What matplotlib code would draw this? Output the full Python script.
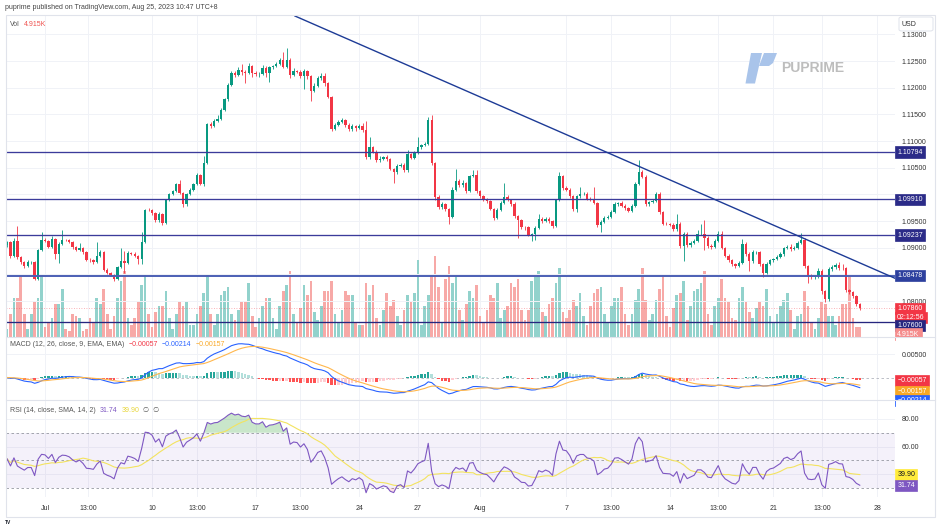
import matplotlib.pyplot as plt
import matplotlib.patches as mpatches
import numpy as np
import pandas as pd

plt.rcParams['font.family'] = ['Liberation Sans', 'DejaVu Sans']

W, H = 941, 527

# EURUSD 4h candles, Jun 29 - Aug 25 2023
first_open = 1.0905
closes = [
    # Jun 29 - Jul 14
    1.0910, 1.0885, 1.0913, 1.0882, 1.0873, 1.0865, 1.0873, 1.0873, 1.0842, 1.0895,
    1.0915, 1.0913, 1.0901, 1.0916, 1.0888, 1.0907, 1.0915, 1.0914, 1.0910, 1.0901,
    1.0895, 1.0900, 1.0891, 1.0877, 1.0876, 1.0874, 1.0885, 1.0892, 1.0859, 1.0853,
    1.0849, 1.0842, 1.0863, 1.0875, 1.0872, 1.0890, 1.0888, 1.0885, 1.0879, 1.0910,
    1.0971, 1.0970, 1.0965, 1.0951, 1.0963, 1.0946, 1.0989, 1.1000, 1.1006, 1.1019,
    1.1003, 1.0981, 1.1000, 1.1009, 1.1019, 1.1036, 1.1020, 1.1058, 1.1132, 1.1128,
    1.1138, 1.1141,
    # Jul 14 - Jul 27
    1.1159, 1.1178, 1.1205, 1.1228, 1.1224, 1.1233, 1.1229, 1.1228, 1.1241, 1.1228,
    1.1225, 1.1225, 1.1237, 1.1228, 1.1238, 1.1240, 1.1245, 1.1252, 1.1239, 1.1252,
    1.1224, 1.1231, 1.1230, 1.1222, 1.1231, 1.1221, 1.1194, 1.1204, 1.1218, 1.1222,
    1.1208, 1.1183, 1.1123, 1.1130, 1.1136, 1.1140, 1.1130, 1.1122, 1.1128, 1.1124,
    1.1128, 1.1120, 1.1070, 1.1088, 1.1080, 1.1064, 1.1067, 1.1070, 1.1066, 1.1048,
    1.1042, 1.1053, 1.1055, 1.1045, 1.1075, 1.1069, 1.1077, 1.1088, 1.1092, 1.1095,
    1.1140, 1.1059,
    # Jul 27 - Aug 10
    1.0995, 1.0976, 1.0981, 1.0973, 1.0958, 1.1009, 1.1025, 1.1017, 1.1021, 1.1006,
    1.1034, 1.1036, 1.1006, 1.0996, 1.0990, 1.0987, 1.0973, 1.0956, 1.0971, 1.0984,
    1.0995, 1.0990, 1.0982, 1.0960, 1.0951, 1.0939, 1.0938, 1.0924, 1.0925, 1.0937,
    1.0954, 1.0950, 1.0954, 1.0950, 1.0940, 1.0989, 1.1034, 1.1011, 1.1009, 1.0996,
    1.0973, 1.0996, 1.1001, 1.1001, 1.0992, 1.0990, 1.0984, 1.0943, 1.0948, 1.0956,
    1.0958, 1.0967, 1.0982, 1.0983, 1.0979, 1.0974, 1.0969, 1.0979, 1.1019, 1.1042,
    1.1033, 1.0982,
    # Aug 10 - Aug 25
    1.0985, 1.0988, 1.1000, 1.0966, 1.0945, 1.0944, 1.0943, 1.0935, 1.0945, 1.0903,
    1.0926, 1.0905, 1.0909, 1.0913, 1.0926, 1.0926, 1.0918, 1.0903, 1.0901, 1.0913,
    1.0926, 1.0900, 1.0885, 1.0877, 1.0869, 1.0866, 1.0872, 1.0907, 1.0888, 1.0875,
    1.0891, 1.0891, 1.0869, 1.0853, 1.0870, 1.0876, 1.0878, 1.0883, 1.0888, 1.0899,
    1.0902, 1.0897, 1.0900, 1.0909, 1.0915, 1.0866, 1.0847, 1.0845, 1.0846, 1.0857,
    1.0818, 1.0803, 1.0860, 1.0863, 1.0868, 1.0862, 1.0861, 1.0820, 1.0817, 1.0809,
    1.0794, 1.0786,
]

# wick lengths beyond the body, in pips
wick_up = [
    3, 2, 5, 27, 2, 2, 3, 2, 2, 3, 15, 3, 2, 5, 2, 3, 19, 2, 2, 3, 2, 8, 2, 2, 3, 2, 25, 3, 2, 2,
    2, 2, 3, 25, 19, 3, 2, 3, 2, 19, 2, 3, 2, 2, 3, 2, 3, 2, 3, 3, 8, 2, 3, 2, 3, 4, 3, 14, 2, 3,
    4, 8,
    3, 2, 4, 3, 4, 5, 12, 5, 5, 2, 3, 4, 5, 3, 2, 3, 4, 3, 14, 23, 4, 5, 3, 3, 4, 3, 2, 4, 3, 5,
    5, 2, 2, 3, 4, 3, 2, 3, 3, 2, 4, 5, 18, 20, 3, 3, 4, 2, 3, 2, 2, 3, 4, 3, 8, 3, 4, 19, 3, 4,
    5, 9,
    2, 3, 4, 3, 2, 5, 23, 4, 5, 3, 3, 9, 9, 3, 2, 3, 2, 2, 3, 4, 26, 3, 2, 3, 2, 3, 2, 3, 3, 3,
    9, 3, 3, 3, 2, 3, 8, 3, 4, 2, 2, 3, 13, 3, 3, 3, 24, 2, 3, 3, 3, 3, 4, 3, 5, 3, 3, 3, 5, 23,
    3, 3,
    3, 3, 4, 4, 2, 3, 2, 3, 18, 3, 3, 3, 3, 4, 8, 18, 25, 3, 3, 4, 6, 5, 2, 3, 2, 3, 3, 9, 3, 3,
    4, 3, 2, 2, 3, 3, 3, 4, 3, 3, 3, 4, 3, 4, 13, 3, 2, 3, 3, 4, 3, 2, 3, 4, 4, 6, 8, 2, 3, 2,
    2, 2,
]
wick_dn = [
    3, 4, 2, 3, 4, 3, 2, 3, 3, 2, 2, 3, 2, 2, 9, 16, 2, 2, 2, 3, 2, 2, 3, 2, 3, 4, 2, 2, 3, 2,
    3, 5, 2, 2, 20, 3, 2, 2, 9, 9, 2, 2, 3, 3, 2, 4, 2, 2, 2, 2, 2, 4, 2, 2, 2, 2, 3, 5, 2, 3,
    2, 2,
    2, 2, 3, 2, 4, 3, 5, 20, 3, 8, 3, 5, 2, 8, 18, 3, 2, 2, 3, 3, 5, 3, 3, 4, 25, 4, 19, 3, 2, 3,
    4, 3, 4, 3, 2, 2, 3, 4, 3, 6, 2, 3, 4, 3, 3, 3, 4, 3, 3, 3, 21, 3, 2, 4, 3, 3, 3, 2, 3, 2,
    2, 4,
    6, 4, 3, 4, 14, 3, 2, 3, 3, 4, 2, 2, 3, 3, 3, 4, 3, 4, 3, 2, 2, 3, 3, 4, 33, 4, 5, 3, 11, 10,
    2, 3, 2, 3, 4, 2, 2, 3, 3, 3, 4, 6, 2, 3, 3, 3, 3, 4, 14, 2, 3, 2, 2, 3, 3, 3, 3, 2, 2, 2,
    3, 3,
    3, 2, 3, 3, 3, 2, 3, 4, 3, 3, 28, 3, 4, 3, 2, 3, 22, 3, 4, 2, 2, 3, 3, 4, 3, 4, 2, 3, 3, 19,
    3, 2, 3, 8, 3, 2, 3, 2, 2, 3, 2, 3, 2, 2, 3, 5, 13, 4, 3, 3, 4, 5, 3, 3, 3, 3, 3, 3, 4, 3,
    3, 2,
]

# volume per candle, thousands
volumes_k = [
    4, 11, 19, 19, 29, 11, 4, 11, 17, 19, 30, 5, 7, 9, 16, 16, 23, 4, 3, 11, 10, 9, 3, 4, 9, 7, 19, 16, 23, 11,
    4, 10, 19, 27, 32, 9, 6, 9, 17, 25, 30, 11, 5, 12, 15, 15, 22, 9, 4, 11, 17, 15, 17, 6, 6, 11, 15, 21, 30, 11,
    6, 11,
    20, 22, 24, 11, 8, 13, 17, 17, 26, 10, 5, 9, 15, 19, 19, 9, 4, 15, 22, 25, 32, 11, 7, 14, 25, 20, 27, 12, 8, 15,
    22, 22, 27, 11, 7, 13, 22, 20, 20, 7, 6, 6, 26, 20, 25, 9, 6, 13, 21, 15, 18, 10, 6, 13, 20, 17, 21, 37, 6, 15,
    20, 30,
    39, 24, 7, 28, 34, 26, 29, 13, 8, 16, 22, 19, 25, 10, 7, 13, 20, 19, 26, 9, 13, 15, 26, 24, 28, 13, 8, 13, 27, 29,
    32, 12, 10, 16, 19, 26, 33, 12, 9, 13, 18, 15, 21, 10, 6, 15, 21, 23, 24, 11, 7, 15, 19, 19, 24, 11, 6, 11, 18, 23,
    33, 18,
    8, 11, 18, 23, 29, 10, 5, 14, 20, 21, 27, 8, 15, 22, 23, 26, 32, 11, 6, 15, 19, 28, 19, 17, 9, 8, 19, 24, 17, 12,
    9, 14, 17, 15, 23, 10, 7, 11, 15, 18, 21, 13, 4, 10, 11, 22, 15, 7, 4, 9, 17, 16, 10, 10, 6, 10, 16, 16, 29, 9,
    5, 4.9,
]

levels = [1.10794, 1.09910, 1.09237, 1.08478, 1.07600]
level_labels = ['1.10794', '1.09910', '1.09237', '1.08478', '1.07600']
trend_x = [83.4, 257.7]
trend_y = [1.13344, 1.08412]
last_price = 1.07860
# average gain / loss carried in from before the first visible candle
rsi_seed = 0.0009

price_ticks = [1.080, 1.085, 1.090, 1.095, 1.100, 1.105, 1.110, 1.115, 1.120, 1.125, 1.130]
# 1.08500 and 1.10000 sit under the level badges
price_tick_labels = ['1.08000', '', '1.09000', '1.09500', '', '1.10500', '1.11000',
                     '1.11500', '1.12000', '1.12500', '1.13000']
time_ticks = [11, 23.5, 42, 55, 72, 85, 102, 119, 137, 162, 175, 192, 206, 222, 236, 252]
time_labels = ['Jul', '13:00', '10', '13:00', '17', '13:00', '24', '27', 'Aug',
               '7', '13:00', '14', '13:00', '21', '13:00', '28']

GREEN = '#089981'
RED = '#f23645'
GRID = '#f0f2f7'


def rect(x0, y0, x1, y1):
    return [x0 / W, 1 - y1 / H, (x1 - x0) / W, (y1 - y0) / H]


def fp(x, y):
    return x / W, 1 - y / H


assert len(closes) == len(wick_up) == len(wick_dn) == len(volumes_k)

c = np.array(closes)
o = np.r_[first_open, c[:-1]]
hi = np.maximum(o, c) + np.array(wick_up) * 1e-4
lo = np.minimum(o, c) - np.array(wick_dn) * 1e-4
idx = np.arange(len(c))
rising = c >= o
cols = np.where(rising, GREEN, RED)
vcols = np.where(rising, '#92d2cc', '#f7a9a7')

s = pd.Series(c)
macd = s.ewm(span=12, adjust=False).mean() - s.ewm(span=26, adjust=False).mean()
signal = macd.ewm(span=9, adjust=False).mean()
hist = (macd - signal).values
prev = np.r_[hist[0], hist[:-1]]
hcols = np.where(hist >= 0, np.where(hist >= prev, '#26a69a', '#b2dfdb'),
                 np.where(hist < prev, '#ff5252', '#ffcdd2'))

# Wilder RSI, started from a neutral seed
delta = pd.Series(c - o)
gain = pd.concat([pd.Series([rsi_seed]), delta.clip(lower=0)], ignore_index=True)
loss = pd.concat([pd.Series([rsi_seed]), -delta.clip(upper=0)], ignore_index=True)
avg_gain = gain.ewm(alpha=1 / 14, adjust=False).mean().values[1:]
avg_loss = loss.ewm(alpha=1 / 14, adjust=False).mean().values[1:]
rsi = 100 - 100 / (1 + avg_gain / avg_loss)
rsi_sma = pd.Series(rsi).rolling(14, min_periods=1).mean().values

fig = plt.figure(figsize=(W / 100, H / 100), dpi=100)
fig.patch.set_facecolor('white')

xlim = (-0.3, 257.2)
ax_vol = fig.add_axes(rect(6, 15, 895, 337))
ax = fig.add_axes(rect(6, 15, 895, 337))
ax.patch.set_alpha(0)
ax_macd = fig.add_axes(rect(6, 337, 895, 400))
ax_rsi = fig.add_axes(rect(6, 400, 895, 497))

for a in (ax_vol, ax, ax_macd, ax_rsi):
    a.set_xlim(*xlim)
    for sp in a.spines.values():
        sp.set_visible(False)
    a.set_xticks([])
    a.set_yticks([])

# volume behind the candles
ax_vol.bar(idx, volumes_k, width=0.78, color=vcols, linewidth=0)
ax_vol.set_ylim(0, 155)
for t in time_ticks:
    ax_vol.axvline(t, color=GRID, lw=0.7, zorder=0)

# price pane
ax.set_ylim(1.07325, 1.13363)
for p in price_ticks:
    ax.axhline(p, color=GRID, lw=0.7, zorder=0)
ax.vlines(idx, lo, hi, colors=cols, lw=0.6, zorder=3)
ax.bar(idx, np.maximum(np.abs(c - o), 0.00005), bottom=np.minimum(o, c), width=0.68,
       color=cols, linewidth=0, zorder=4)
level_colors = ['#3b3b9b', '#3b3b9b', '#3b3b9b', '#4c5fb4', '#26267f']
level_widths = [0.95, 0.95, 0.95, 1.4, 0.95]
for lv, col, lw in zip(levels, level_colors, level_widths):
    ax.axhline(lv, color=col, lw=lw, zorder=5)
ax.plot(trend_x, trend_y, color='#1d3b96', lw=1.0, zorder=5)
ax.axhline(last_price, color=RED, lw=0.6, ls=(0, (1, 2)), alpha=0.5, zorder=2)

ax.yaxis.tick_right()
ax.set_yticks(price_ticks)
ax.set_yticklabels(price_tick_labels)
ax.tick_params(axis='y', length=0, pad=5, labelsize=5, labelcolor='#333333')


def box(a, y, text, fc, tc='white', dy=0):
    a.annotate(text, xy=(1.0025, y), xycoords=a.get_yaxis_transform(),
               xytext=(0, dy), textcoords='offset points', ha='left', va='center',
               fontsize=5, color=tc, annotation_clip=False, zorder=20,
               bbox=dict(boxstyle='square,pad=0.3', fc=fc, ec=fc, lw=0.5))


box_colors = ['#2b2b88', '#2b2b88', '#2b2b88', '#2d409e', '#262680']
for lv, lab, fc in zip(levels[:4], level_labels[:4], box_colors[:4]):
    box(ax, lv, lab, fc)
box(ax, last_price, '1.07860', RED)
box(ax, last_price, '02:12:56', RED, dy=-6.3)
box(ax, levels[4], level_labels[4], box_colors[4], dy=-2)
box(ax, 1.07380, '4.915K', '#f58c8c')

# MACD pane
ax_macd.set_ylim(-0.00482, 0.00868)
for t in time_ticks:
    ax_macd.axvline(t, color=GRID, lw=0.7, zorder=0)
ax_macd.axhline(0.005, color=GRID, lw=0.7, zorder=0)
ax_macd.axhline(0, color='#b2b5be', lw=0.6, ls=(0, (3, 3)), zorder=1)
ax_macd.bar(idx, hist, width=0.7, color=hcols, linewidth=0, zorder=2)
ax_macd.plot(idx, macd, color='#2962ff', lw=0.8, zorder=3)
ax_macd.plot(idx, signal, color='#ffb74d', lw=0.8, zorder=3)
ax_macd.yaxis.tick_right()
ax_macd.set_yticks([0.005])
ax_macd.set_yticklabels(['0.00500'])
ax_macd.tick_params(axis='y', length=0, pad=5, labelsize=5, labelcolor='#333333')
box(ax_macd, -0.00057, '\u22120.00057', RED)
box(ax_macd, -0.00157, '\u22120.00157', '#f9a825', dy=-4.5)
box(ax_macd, -0.00214, '\u22120.00214', '#2962ff', dy=-9.5)

# RSI pane
ax_rsi.set_ylim(23.3, 93.8)
for t in time_ticks:
    ax_rsi.axvline(t, color=GRID, lw=0.7, zorder=0)
for g in (80, 60, 40):
    ax_rsi.axhline(g, color=GRID, lw=0.7, zorder=0)
ax_rsi.axhspan(30, 70, color='#7e57c2', alpha=0.08, lw=0, zorder=1)
for g in (70, 50, 30):
    ax_rsi.axhline(g, color='#9598a1', lw=0.6, ls=(0, (3, 3)), zorder=2)
ax_rsi.fill_between(idx, 70, rsi, where=rsi > 70, interpolate=True,
                    color='#4caf50', alpha=0.3, lw=0, zorder=2)
ax_rsi.fill_between(idx, 30, rsi, where=rsi < 30, interpolate=True,
                    color='#f23645', alpha=0.15, lw=0, zorder=2)
ax_rsi.plot(idx, rsi_sma, color='#f3e35f', lw=0.8, zorder=3)
ax_rsi.plot(idx, rsi, color='#7e57c2', lw=0.8, zorder=4)
ax_rsi.yaxis.tick_right()
ax_rsi.set_yticks([80, 60])
ax_rsi.set_yticklabels(['80.00', '60.00'])
ax_rsi.tick_params(axis='y', length=0, pad=5, labelsize=5, labelcolor='#333333')
box(ax_rsi, 39.90, '39.90', '#ffeb3b', tc='#131722')
box(ax_rsi, 31.74, '31.74', '#7e57c2')

ax_rsi.set_xticks(time_ticks)
ax_rsi.set_xticklabels(time_labels)
ax_rsi.tick_params(axis='x', length=0, pad=6, labelsize=5, labelcolor='#333333')

# hide label overflow below the panes
for y0, y1 in ((336.6, 341), (400.3, 410)):
    fig.add_artist(mpatches.Rectangle(fp(896, y1), 39 / W, (y1 - y0) / H,
                                      transform=fig.transFigure, fc='white', ec='none', zorder=30))

# frame and pane separators
fig.add_artist(mpatches.Rectangle(fp(6, 517), 929 / W, 502 / H, transform=fig.transFigure,
                                  fill=False, ec='#e0e3eb', lw=0.8, zorder=31))
for y in (337, 400):
    fig.add_artist(plt.Line2D([6 / W, 935 / W], [1 - y / H] * 2, transform=fig.transFigure,
                              color='#e0e3eb', lw=0.8, zorder=31))

# USD badge
fig.add_artist(mpatches.FancyBboxPatch(fp(899, 31), 34 / W, 14 / H, boxstyle='round,pad=0,rounding_size=0.003',
                                       transform=fig.transFigure, fc='white', ec='#e0e3eb', lw=0.7, zorder=32))
fig.text(*fp(902, 24.5), 'USD', fontsize=5, color='#333333', va='center', zorder=33)

# header and legends
fig.text(*fp(5, 7.5), 'puprime published on TradingView.com, Aug 25, 2023 10:47 UTC+8',
         fontsize=5, color='#444444', va='center')

renderer = fig.canvas.get_renderer()


def text_row(x, y, parts, gap=4):
    for txt, col in parts:
        t = fig.text(*fp(x, y), txt, fontsize=5, color=col, va='center', ha='left', zorder=35)
        x = t.get_window_extent(renderer=renderer).x1 + gap


text_row(10, 24, [('Vol', '#555555'), ('4.915K', '#ef5350')])
text_row(10, 345, [('MACD (12, 26, close, 9, EMA, EMA)', '#555555'), ('\u22120.00057', RED),
                   ('\u22120.00214', '#2962ff'), ('\u22120.00157', '#f9a825')])
text_row(10, 410, [('RSI (14, close, SMA, 14, 2)', '#555555'), ('31.74', '#7e57c2'),
                   ('39.90', '#e8d63a'), ('\u2205  \u2205', '#555555')])

# PUPRIME watermark
logo_bar = [(745.5, 83.5), (755, 83.5), (762, 53), (751, 53)]
logo_hook = [(764, 53), (777, 53), (773, 63), (769, 66), (759, 66)]
for shape in (logo_bar, logo_hook):
    fig.add_artist(mpatches.Polygon([fp(x, y) for x, y in shape], closed=True,
                                    transform=fig.transFigure, fc='#a9c4ea', ec='none', zorder=6))
fig.text(*fp(781, 67.5), 'PUPRIME', fontsize=10, fontweight='bold', color='#bdbdbd',
         va='center', zorder=6)

fig.text(*fp(5, 522), 'TV', fontsize=3.5, fontweight='bold', color='#131722', va='center')

fig.savefig('out.png', dpi=100, facecolor='white')
